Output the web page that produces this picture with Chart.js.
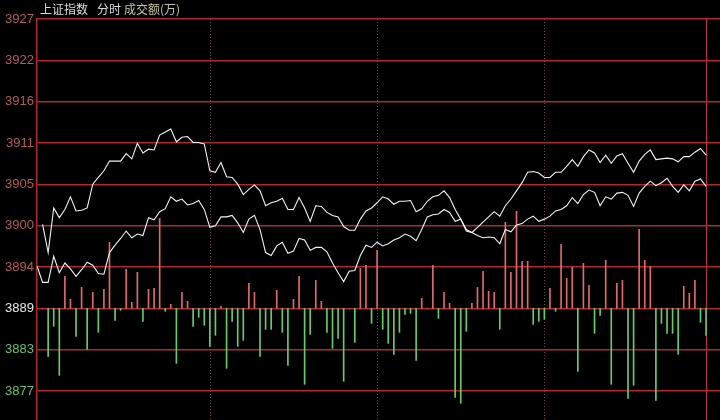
<!DOCTYPE html>
<html lang="zh-CN">
<head>
<meta charset="UTF-8">
<title>上证指数 分时</title>
<style>
  body { margin: 0; background: #000; }
  .wrap { position: relative; width: 720px; height: 420px; }
  .title span { position: absolute; top: 2px; font: 12px/14px "Noto Sans CJK SC", sans-serif; color: #dcdcdc; white-space: nowrap; }
  .title .amt { color: #c4c4a0; }
</style>
</head>
<body>
<div class="wrap">
  <canvas id="chart" width="720" height="420"></canvas>
  <div class="title">
    <span style="left:40px">上证指数</span>
    <span style="left:97px">分时</span>
    <span class="amt" style="left:124px">成交额(万)</span>
  </div>
</div>

<script src="https://cdn.jsdelivr.net/npm/chart.js"></script>
<script>
// y axis labels and where they sit
const tickLabels = ['3877', '3883', '3889', '3894', '3900', '3905', '3911', '3916', '3922', '3927'];
const tickValues = [3877.4, 3882.96, 3888.51, 3894.07, 3899.63, 3905.18, 3910.74, 3916.29, 3921.85, 3927.4];
const yMin = 3873.5;
const yMax = 3927.4;
const baseLevel = 3888.51;   // the 3889 line the bars stand on

// session marks (dotted) on the time axis, 121 slots in the day
const sessionMarks = [31, 61, 91];
const lastSlot = 120;

// upper white line (starts one slot late)
const indexLine = [
  null, 3899.8, 3896.0, 3902.0, 3900.7, 3901.8, 3903.5, 3901.6, 3901.7, 3902.0,
  3905.2, 3906.1, 3907.0, 3908.3, 3908.3, 3908.3, 3909.3, 3908.6, 3910.7, 3909.4,
  3909.9, 3909.8, 3911.8, 3912.2, 3912.6, 3910.9, 3911.5, 3911.6, 3910.8, 3910.8,
  3910.6, 3907.0, 3906.8, 3908.1, 3906.2, 3906.1, 3905.2, 3903.8, 3904.5, 3905.1,
  3904.3, 3902.3, 3902.7, 3902.9, 3903.3, 3901.8, 3901.8, 3903.4, 3902.0, 3900.2,
  3902.3, 3902.2, 3901.4, 3901.0, 3900.8, 3899.5, 3899.0, 3899.0, 3900.5, 3901.6,
  3902.0, 3902.7, 3903.5, 3903.2, 3902.5, 3902.9, 3902.9, 3903.0, 3901.5, 3901.9,
  3902.9, 3903.5, 3903.7, 3904.3, 3903.4, 3901.8, 3900.5, 3898.9, 3898.7, 3899.4,
  3900.1, 3900.8, 3901.5, 3900.9, 3902.3, 3903.2, 3904.3, 3905.4, 3906.8, 3906.9,
  3906.7, 3906.1, 3906.1, 3906.8, 3906.8, 3907.6, 3908.5, 3907.6, 3908.9, 3909.8,
  3909.4, 3908.1, 3909.1, 3908.0, 3909.0, 3909.3, 3908.0, 3906.8, 3908.3, 3909.2,
  3909.8, 3908.5, 3908.6, 3908.7, 3908.6, 3908.2, 3908.9, 3908.9, 3909.5, 3910.0,
  3909.1
];

// lower white line
const avgLine = [
  3894.2, 3892.0, 3892.0, 3895.5, 3893.3, 3894.6, 3893.8, 3892.8, 3893.7, 3894.7,
  3894.3, 3893.2, 3893.1, 3896.0, 3897.0, 3897.9, 3898.9, 3898.0, 3898.5, 3898.3,
  3900.7, 3900.4, 3901.5, 3901.9, 3903.5, 3902.9, 3903.2, 3902.4, 3902.6, 3903.0,
  3901.8, 3899.4, 3899.6, 3900.8, 3900.8, 3901.0, 3900.0, 3898.7, 3900.5, 3901.0,
  3899.1, 3896.0, 3895.6, 3896.9, 3897.4, 3895.9, 3896.2, 3897.9, 3897.7, 3896.3,
  3896.7, 3896.7, 3896.1, 3894.6, 3893.3, 3892.1, 3893.5, 3893.6, 3895.6, 3897.0,
  3896.7, 3897.4, 3896.9, 3897.2, 3897.7, 3898.0, 3898.5, 3898.2, 3897.6, 3899.1,
  3900.8, 3901.1, 3901.2, 3901.8, 3901.4, 3900.2, 3900.5, 3899.1, 3898.7, 3898.3,
  3898.0, 3898.1, 3898.0, 3897.2, 3899.1, 3898.8, 3899.7, 3899.9, 3900.5, 3900.9,
  3900.2, 3900.5, 3900.9, 3901.6, 3901.8, 3902.3, 3903.4, 3902.6, 3903.8, 3904.4,
  3904.1, 3902.3, 3903.5, 3903.2, 3904.0, 3904.1, 3903.7, 3902.2, 3904.0, 3904.9,
  3905.6, 3905.0, 3905.4, 3906.0, 3904.9, 3904.1, 3905.1, 3904.3, 3905.6, 3905.9,
  3904.9
];

// red / green bars, signed, relative units
const amount = [
  0, 0, -48, -18, -67, 32, 9, -28, 21, -41,
  16, -24, 19, 66, -12, -2, 39, 6, 36, -13,
  19, 20, 90, -3, 4, -55, 16, 7, -18, -9,
  -17, -38, -27, 2, -60, -13, -38, -32, 25, 16,
  -48, -21, -21, 18, -24, -57, 9, 32, -76, -26,
  28, 7, -24, -40, -30, -73, 0, -34, 40, 43,
  -15, 58, -21, -35, -46, -24, -6, -5, -52, 10,
  0, 43, -10, 16, 5, -89, -95, -23, 5, 21,
  37, 17, 16, -21, 86, 36, 97, 47, 47, -16,
  -13, -11, 20, -3, 64, 30, 41, -63, 45, 23,
  -25, -7, 48, -76, 25, 28, -90, -77, 79, 48,
  42, -92, -15, -25, -25, -46, 22, 15, 28, -14,
  -27
];
const amtPerPoint = 7.44;

const gridRed = '#b02a2a';
const upColor = '#e06a6a';
const downColor = '#66cc66';

const bgPlugin = {
  id: 'bg',
  beforeDraw(chart) {
    const c = chart.ctx;
    c.save();
    c.fillStyle = '#000';
    c.fillRect(0, 0, chart.width, chart.height);
    c.restore();
  }
};

const marksPlugin = {
  id: 'marks',
  beforeDatasetsDraw(chart) {
    const c = chart.ctx;
    const area = chart.chartArea;
    const xs = chart.scales.x;
    c.save();
    c.lineWidth = 1;
    c.strokeStyle = '#7a4040';
    c.setLineDash([1, 2]);
    sessionMarks.forEach(v => {
      const x = Math.round(xs.getPixelForValue(v)) + 0.5;
      c.beginPath();
      c.moveTo(x, area.top);
      c.lineTo(x, area.bottom);
      c.stroke();
    });
    c.setLineDash([]);
    c.strokeStyle = '#c03434';
    const xr = Math.round(xs.getPixelForValue(lastSlot)) + 0.5;
    c.beginPath();
    c.moveTo(xr, area.top);
    c.lineTo(xr, area.bottom);
    c.stroke();
    c.restore();
  }
};

const ctx = document.getElementById('chart').getContext('2d');
new Chart(ctx, {
  data: {
    datasets: [
      {
        type: 'line',
        label: '上证指数',
        data: indexLine.map((v, i) => ({ x: i, y: v })),
        borderColor: '#f2f2f2',
        borderWidth: 1.1,
        pointRadius: 0,
        tension: 0,
        order: 0
      },
      {
        type: 'line',
        label: '均价',
        data: avgLine.map((v, i) => ({ x: i, y: v })),
        borderColor: '#f2f2f2',
        borderWidth: 1.1,
        pointRadius: 0,
        tension: 0,
        order: 1
      },
      {
        type: 'bar',
        label: '成交额',
        data: amount.map((v, i) => ({ x: i, y: v })),
        yAxisID: 'amt',
        backgroundColor: amount.map(v => v >= 0 ? upColor : downColor),
        barThickness: 1,
        order: 2
      }
    ]
  },
  options: {
    responsive: false,
    devicePixelRatio: 1,
    animation: false,
    layout: { padding: { top: 19, left: 0, right: 0, bottom: 0 } },
    plugins: { legend: { display: false }, tooltip: { enabled: false } },
    scales: {
      x: { type: 'linear', display: false, offset: false, bounds: 'data', min: 0, max: 122.5 },
      y: {
        position: 'left',
        min: yMin,
        max: yMax,
        afterFit(s) {
          s.width = 37;
          s.paddingTop = 0;
          s.paddingBottom = 0;
        },
        afterBuildTicks(s) { s.ticks = tickValues.map(v => ({ value: v })); },
        ticks: {
          padding: 3,
          font: { size: 13, family: 'Liberation Sans' },
          callback: (v, i) => tickLabels[i],
          color: c => {
            const lab = tickLabels[c.index];
            if (lab === '3889') return '#e8e8e8';
            return Number(lab) > 3889 ? '#b85a5a' : '#6cc06c';
          }
        },
        grid: { color: gridRed, drawTicks: false, lineWidth: 1.5 },
        border: { color: gridRed, width: 1.5 }
      },
      amt: {
        display: false,
        min: (yMin - baseLevel) * amtPerPoint,
        max: (yMax - baseLevel) * amtPerPoint
      }
    }
  },
  plugins: [bgPlugin, marksPlugin]
});
</script>
</body>
</html>
